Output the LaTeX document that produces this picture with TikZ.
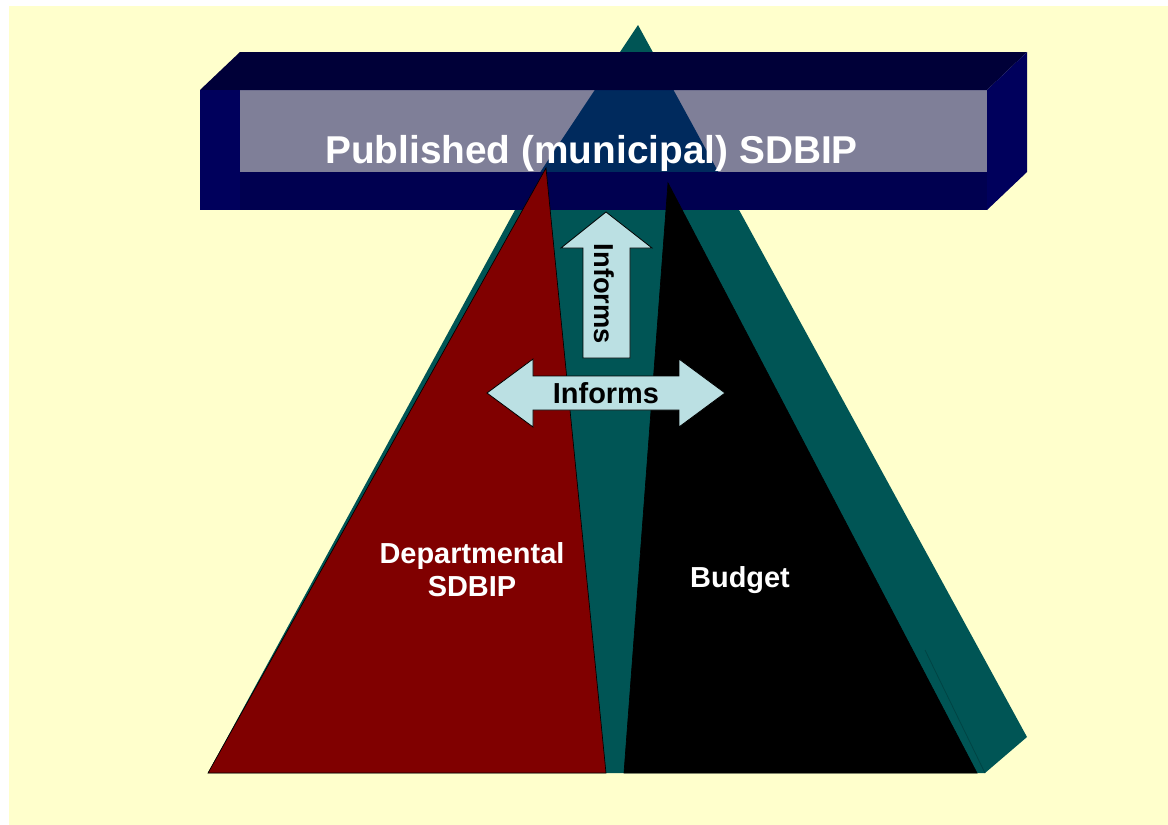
\documentclass[tikz,border=0pt]{standalone}
\usepackage{fontspec}
\setmainfont{Liberation Sans}
\usepackage{tikz}
\usetikzlibrary{positioning}
\definecolor{paper}{HTML}{FFFFCC}
\definecolor{pyramid}{HTML}{005555}
\definecolor{deptred}{HTML}{800000}
\definecolor{navytop}{HTML}{000038}
\definecolor{navyfront}{HTML}{000050}
\definecolor{navyside}{HTML}{00005C}
\definecolor{navy}{HTML}{000066}
\definecolor{arrowblue}{HTML}{BBE0E3}

\begin{document}
\begin{tikzpicture}[x=0.75pt, y=-0.75pt,
    arrowfill/.style={fill=arrowblue, draw=black, line width=0.6pt},
    label/.style={font=\bfseries\fontsize{21.7}{24.75}\selectfont, align=center}]

        \useasboundingbox (0,0) rectangle (1168,825);
        \fill[white] (0,0) rectangle (1168,825);
        \fill[paper] (9,6) rectangle (1168,825);

        % Pyramid behind
        \fill[pyramid] (638,25) -- (1027,737) -- (985,773) -- (208,773) -- (515,210) -- cycle;
        \draw[pyramid!80!black, line width=0.6pt] (985,773) -- (925,650);

        % Box
        \fill[navytop] (200,90) -- (240,52) -- (1027,52) -- (987,90) -- cycle;
        \fill[navyside] (987,90) -- (1027,52) -- (1027,172) -- (987,210) -- cycle;
        \fill[navyside] (200,90) rectangle (240,210);
        \fill[navyfront] (240,172) rectangle (987,210);
        \fill[navy, opacity=0.5] (240,90) rectangle (987,172);

        % Departmental SDBIP and budget
        \filldraw[fill=deptred, draw=black, line width=0.5pt] (546,168) -- (606,773) -- (208,773) -- cycle;
        \filldraw[fill=black, draw=black, line width=0.5pt] (668,183) -- (977,773) -- (624,773) -- cycle;

        % Arrows
        \filldraw[arrowfill] (606,212) -- (652,248) -- (630,248) -- (630,358)
            -- (583,358) -- (583,248) -- (561,248) -- cycle;
        \filldraw[arrowfill] (487,393) -- (533,359) -- (533,376) -- (679,376) -- (679,359)
            -- (725,393) -- (679,427) -- (679,410) -- (533,410) -- (533,427) -- cycle;

        \node[font=\bfseries\fontsize{29.1}{35}\selectfont, text=white, anchor=base] (title) at (591.5,163) {Published (municipal) SDBIP};
        \node[label, font=\bfseries\fontsize{20.5}{24}\selectfont, rotate=-90] (informsup) at (604,294) {Informs};
        \node[label] (informsside) at (606,393) {Informs};
        \node[label, text=white] (dept) at (472,570) {Departmental\\SDBIP};
        \node[label, text=white, anchor=base] (budget) at (740,587) {Budget};
    \end{tikzpicture}
\end{document}
